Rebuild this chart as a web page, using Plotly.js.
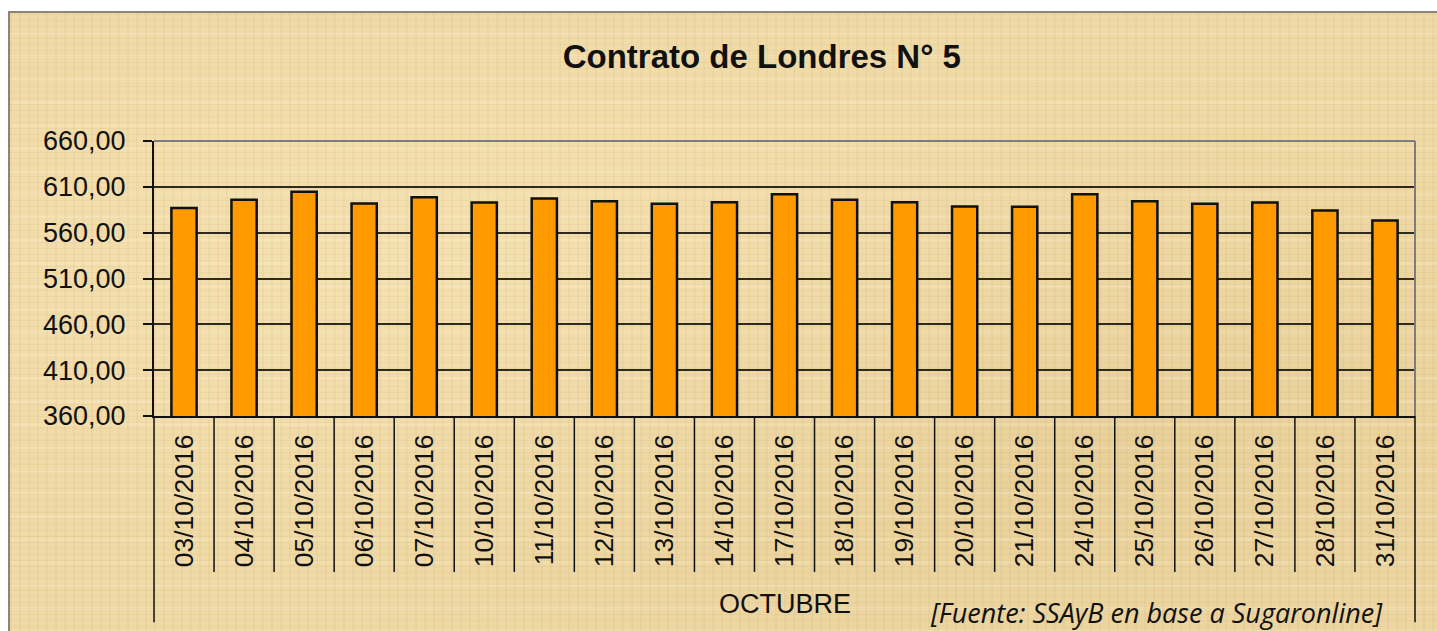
<!DOCTYPE html>
<html>
<head>
<meta charset="utf-8">
<script src="https://cdn.plot.ly/plotly-3.0.1.min.js"></script>
<style>
  html, body { margin: 0; padding: 0; background: #ffffff; width: 1437px; height: 631px; overflow: hidden; }
  #paper {
    position: absolute; left: 8px; top: 11px; width: 1429px; height: 620px;
    border-top: 2px solid #8c8478; border-left: 2px solid #8c8478;
    background-color: #efd9a5;
    background-image:
      repeating-linear-gradient(0deg, rgba(170,140,80,0.08) 0px, rgba(170,140,80,0.08) 1px, transparent 1px, transparent 6px),
      repeating-linear-gradient(90deg, rgba(170,140,80,0.07) 0px, rgba(170,140,80,0.07) 2px, transparent 2px, transparent 9px),
      repeating-linear-gradient(0deg, rgba(255,245,215,0.22) 0px, rgba(255,245,215,0.22) 3px, transparent 3px, transparent 23px),
      radial-gradient(ellipse at 30% 40%, rgba(255,240,200,0.35), transparent 60%),
      radial-gradient(ellipse at 75% 70%, rgba(200,165,100,0.18), transparent 55%);
  }
  #chart { position: absolute; left: 0; top: 0; width: 1437px; height: 631px; }
</style>
</head>
<body>
<div id="paper"></div>
<div id="chart"></div>
<script>
const chartTitle = 'Contrato de Londres N° 5';
const monthLabel = 'OCTUBRE';
const sourceLabel = '[Fuente: SSAyB en base a Sugaronline]';
const dates = ['03/10/2016','04/10/2016','05/10/2016','06/10/2016','07/10/2016','10/10/2016','11/10/2016',
  '12/10/2016','13/10/2016','14/10/2016','17/10/2016','18/10/2016','19/10/2016','20/10/2016','21/10/2016',
  '24/10/2016','25/10/2016','26/10/2016','27/10/2016','28/10/2016','31/10/2016'];
const prices = [586.8, 595.8, 604.6, 591.8, 598.7, 592.9, 597.3, 594.4, 591.5, 593.3, 602.0,
  595.8, 593.3, 588.5, 588.3, 602.0, 594.4, 591.5, 592.9, 584.2, 573.3];
const yTicks = [360, 410, 460, 510, 560, 610, 660];

const n = dates.length;
const shapes = [];
for (let i = 0; i <= n; i++) {
  const outer = (i === 0 || i === n);
  shapes.push({type: 'line', xref: 'paper', yref: 'paper', x0: i / n, x1: i / n, y0: 0, y1: outer ? -0.75 : -0.567,
    line: {color: '#111111', width: 1.5}, layer: 'above'});
}
// plot border (top and right)
shapes.push({type: 'line', xref: 'paper', yref: 'paper', x0: 0, x1: 1, y0: 1, y1: 1, line: {color: '#7d7d7d', width: 2}});
shapes.push({type: 'line', xref: 'paper', yref: 'paper', x0: 1, x1: 1, y0: 0, y1: 1, line: {color: '#7d7d7d', width: 2}});

const trace = {
  type: 'bar', x: dates, y: prices,
  marker: {color: '#ff9a00', line: {color: '#111111', width: 2.5}},
  hoverinfo: 'x+y'
};

const layout = {
  width: 1437, height: 631,
  margin: {l: 154, r: 22, t: 141, b: 215},
  paper_bgcolor: 'rgba(0,0,0,0)', plot_bgcolor: 'rgba(0,0,0,0)',
  separators: ',.',
  showlegend: false,
  bargap: 0.58,
  font: {family: 'Liberation Sans, Arial, sans-serif', color: '#111111'},
  title: {text: '<b>' + chartTitle + '</b>', font: {size: 33, color: '#111111', family: 'Liberation Sans, Arial, sans-serif'},
    xref: 'paper', x: 0.482, xanchor: 'center', yref: 'container', y: 1 - 56 / 631, yanchor: 'middle'},
  xaxis: {
    type: 'category', tickangle: -90, ticks: '', showgrid: false, zeroline: false,
    showline: true, linecolor: '#111111', linewidth: 2,
    tickfont: {size: 26.5, color: '#111111'}, ticklabelstandoff: 6, fixedrange: true
  },
  yaxis: {
    range: [360, 660], tickvals: yTicks, tickformat: '.2f',
    ticks: 'outside', ticklen: 9, tickwidth: 1.5, tickcolor: '#111111',
    showline: true, linecolor: '#111111', linewidth: 2,
    showgrid: true, gridcolor: '#2e2a20', gridwidth: 1.5, zeroline: false,
    tickfont: {size: 27, color: '#111111'}, ticklabelstandoff: 12, fixedrange: true
  },
  shapes: shapes,
  annotations: [
    {text: monthLabel, xref: 'paper', yref: 'paper', x: 0.5, y: -0.684, xanchor: 'center', yanchor: 'middle',
      showarrow: false, font: {size: 27, color: '#111111'}},
    {text: '<i>' + sourceLabel + '</i>', xref: 'paper', yref: 'paper', x: 0.795, y: -0.713, xanchor: 'center', yanchor: 'middle',
      showarrow: false, font: {size: 27, color: '#111111', family: 'Open Sans, Noto Sans, sans-serif'}}
  ]
};

Plotly.newPlot('chart', [trace], layout, {displayModeBar: false, staticPlot: false});
</script>
</body>
</html>
